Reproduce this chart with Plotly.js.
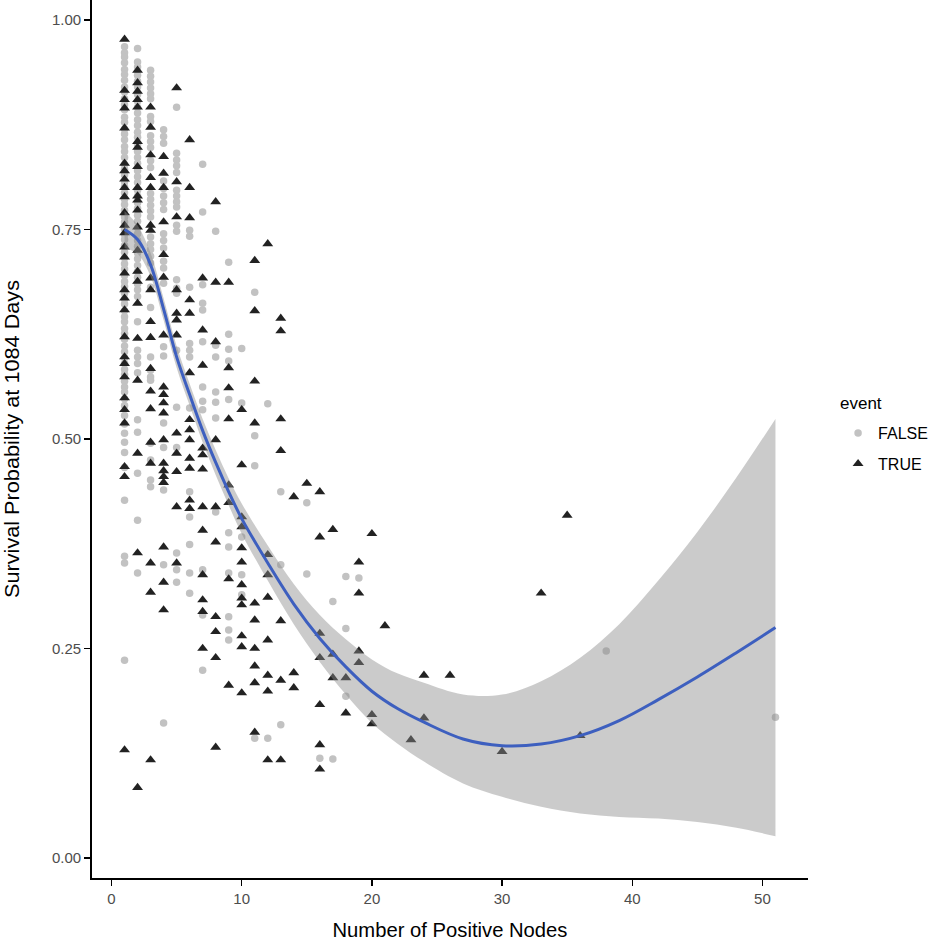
<!DOCTYPE html>
<html><head><meta charset="utf-8">
<script src="https://cdn.plot.ly/plotly-3.0.1.min.js"></script>
<style>html,body{margin:0;padding:0;background:#fff}#chart{width:941px;height:941px}</style>
</head><body><div id="chart"></div>
<script>
// ---- Data (event FALSE = grey circles, TRUE = black triangles) ----
const F1 = [0.968,0.961,0.956,0.949,0.941,0.935,0.928,0.920,0.914,0.906,0.899,0.893,0.884,0.878,0.870,0.864,0.857,0.849,0.843,0.836,0.828,0.822,0.815,0.807,0.801,0.794,0.786,0.780,0.773,0.765,0.759,0.751,0.744,0.738,0.731,0.723,0.716,0.709,0.703,0.695,0.688,0.682,0.674,0.667,0.661,0.653,0.646,0.640,0.632,0.626,0.619,0.611,0.604,0.597,0.590,0.583,0.577,0.569,0.562,0.556,0.548,0.540,0.528,0.518,0.507,0.496,0.484,0.466,0.427,0.360,0.352,0.236];
const T1 = [0.977,0.916,0.905,0.895,0.871,0.829,0.820,0.810,0.800,0.789,0.770,0.755,0.746,0.729,0.717,0.698,0.678,0.668,0.654,0.622,0.598,0.590,0.574,0.549,0.535,0.519,0.467,0.455,0.129];
const F2 = [0.966,0.950,0.944,0.934,0.927,0.920,0.911,0.903,0.896,0.889,0.881,0.874,0.866,0.860,0.851,0.843,0.836,0.829,0.820,0.813,0.806,0.797,0.790,0.782,0.775,0.767,0.760,0.752,0.745,0.737,0.730,0.722,0.715,0.707,0.700,0.693,0.685,0.678,0.670,0.640,0.606,0.598,0.590,0.579,0.523,0.508,0.459,0.403,0.340];
const T2 = [0.940,0.925,0.915,0.905,0.896,0.855,0.848,0.825,0.800,0.790,0.785,0.773,0.753,0.725,0.700,0.688,0.662,0.620,0.570,0.483,0.364,0.084];
const F3 = [0.940,0.933,0.926,0.919,0.912,0.906,0.885,0.879,0.862,0.855,0.848,0.832,0.824,0.793,0.786,0.779,0.772,0.765,0.741,0.733,0.726,0.718,0.710,0.681,0.657,0.598,0.582,0.574,0.570,0.495,0.475,0.451,0.443];
const T3 = [0.896,0.872,0.839,0.812,0.800,0.755,0.749,0.692,0.678,0.640,0.621,0.584,0.557,0.536,0.496,0.471,0.352,0.317,0.117];
const F4 = [0.869,0.861,0.853,0.808,0.799,0.790,0.782,0.774,0.745,0.737,0.728,0.712,0.704,0.686,0.610,0.599,0.519,0.490,0.439,0.350,0.161];
const T4 = [0.837,0.817,0.800,0.759,0.720,0.693,0.624,0.562,0.553,0.543,0.531,0.499,0.471,0.462,0.455,0.448,0.371,0.329,0.296];
const F5 = [0.896,0.841,0.833,0.826,0.818,0.797,0.790,0.783,0.777,0.755,0.748,0.690,0.680,0.674,0.606,0.538,0.490,0.364,0.344,0.329];
const T5 = [0.919,0.807,0.765,0.678,0.650,0.642,0.624,0.507,0.483,0.461,0.419,0.352];
const F6 = [0.749,0.742,0.681,0.614,0.606,0.598,0.537,0.437,0.407,0.374,0.340,0.316];
const T6 = [0.857,0.800,0.764,0.666,0.650,0.579,0.523,0.511,0.499,0.477,0.465,0.427,0.417];
const F7 = [0.828,0.771,0.684,0.662,0.654,0.616,0.562,0.545,0.535,0.344,0.290,0.224];
const T7 = [0.692,0.630,0.588,0.489,0.481,0.464,0.419,0.391,0.338,0.308,0.294,0.250];
const F8 = [0.748,0.612,0.598,0.556,0.544,0.525,0.413];
const T8 = [0.783,0.687,0.616,0.499,0.419,0.377,0.288,0.270,0.239,0.132];
const F9 = [0.711,0.625,0.607,0.593,0.547,0.388,0.371,0.340,0.288,0.272,0.260];
const T9 = [0.687,0.585,0.561,0.524,0.445,0.424,0.333,0.206];
const F10 = [0.608,0.543,0.383,0.338,0.314];
const T10 = [0.535,0.469,0.407,0.395,0.370,0.353,0.326,0.310,0.302,0.265,0.252,0.197];
const F11 = [0.675,0.504,0.468,0.143];
const T11 = [0.713,0.653,0.569,0.519,0.304,0.284,0.250,0.229,0.209,0.150];
const F12 = [0.542,0.143];
const T12 = [0.733,0.362,0.338,0.311,0.260,0.218,0.199,0.117];
const F13 = [0.437,0.350,0.159];
const T13 = [0.644,0.629,0.524,0.486,0.283,0.212,0.117];
// sparse columns (nodes >= 14)
const F_REST_NODES = [15,15,16,17,17,18,18,18,19,38,51];
const F_REST_PROB  = [0.424,0.339,0.119,0.306,0.118,0.336,0.274,0.193,0.334,0.247,0.168];
const T_REST_NODES = [14,14,14,15,16,16,16,16,16,16,16,17,17,17,18,18,19,19,19,19,20,20,20,21,23,24,24,26,30,33,35,36];
const T_REST_PROB  = [0.431,0.221,0.203,0.447,0.437,0.383,0.268,0.239,0.183,0.135,0.106,0.392,0.243,0.215,0.215,0.173,0.353,0.316,0.247,0.233,0.387,0.171,0.160,0.277,0.141,0.218,0.167,0.218,0.127,0.316,0.409,0.146];

// smoothed fit with confidence band
const SMOOTH_X  = [1,2,3,4,5,6,7,8,9,10,12,14,16,18,20,22,24,27,30,33,36,39,42,45,48,51];
const SMOOTH_FIT = [0.750,0.738,0.708,0.655,0.598,0.553,0.510,0.472,0.437,0.405,0.352,0.303,0.262,0.228,0.199,0.178,0.162,0.142,0.134,0.136,0.146,0.164,0.189,0.216,0.245,0.275];
const SMOOTH_LO = [0.728,0.721,0.694,0.642,0.585,0.540,0.496,0.457,0.421,0.387,0.331,0.279,0.234,0.195,0.161,0.136,0.115,0.089,0.073,0.061,0.053,0.049,0.047,0.043,0.036,0.026];
const SMOOTH_HI = [0.772,0.755,0.722,0.668,0.611,0.566,0.524,0.487,0.453,0.423,0.373,0.327,0.290,0.261,0.237,0.220,0.209,0.195,0.195,0.211,0.239,0.279,0.331,0.389,0.454,0.524];

const X_TICKS = [0,10,20,30,40,50];
const Y_TICKS = [0,0.25,0.5,0.75,1];
const Y_TICK_TEXT = ['0.00','0.25','0.50','0.75','1.00'];

// ---- build point lists ----
const FALSE_COLS = [F1,F2,F3,F4,F5,F6,F7,F8,F9,F10,F11,F12,F13];
const TRUE_COLS  = [T1,T2,T3,T4,T5,T6,T7,T8,T9,T10,T11,T12,T13];
const fx=[], fy=[], tx=[], ty=[];
FALSE_COLS.forEach((col,i)=>col.forEach(v=>{fx.push(i+1); fy.push(v);}));
TRUE_COLS.forEach((col,i)=>col.forEach(v=>{tx.push(i+1); ty.push(v);}));
F_REST_NODES.forEach((n,i)=>{fx.push(n); fy.push(F_REST_PROB[i]);});
T_REST_NODES.forEach((n,i)=>{tx.push(n); ty.push(T_REST_PROB[i]);});

const traces = [
  {x:fx, y:fy, type:'scatter', mode:'markers', name:'FALSE', legendgroup:'f',
   marker:{symbol:'circle', size:7.5, color:'#c2c2c2'}},
  {x:tx, y:ty, type:'scatter', mode:'markers', name:'TRUE', legendgroup:'t',
   marker:{symbol:'triangle-up', size:9.5, color:'#222222'}},
  {x:SMOOTH_X, y:SMOOTH_LO, type:'scatter', mode:'lines', line:{width:0, shape:'spline'},
   showlegend:false, hoverinfo:'skip'},
  {x:SMOOTH_X, y:SMOOTH_HI, type:'scatter', mode:'lines', line:{width:0, shape:'spline'},
   fill:'tonexty', fillcolor:'rgba(140,140,140,0.45)', showlegend:false, hoverinfo:'skip'},
  {x:SMOOTH_X, y:SMOOTH_FIT, type:'scatter', mode:'lines', line:{width:3, color:'#3d5fbf', shape:'spline'},
   showlegend:false, hoverinfo:'skip'}
];

const axisCommon = {
  ticks:'outside', ticklen:6, tickwidth:1.5, tickcolor:'#000',
  showline:true, linecolor:'#000', linewidth:1.8, showgrid:false, zeroline:false,
  tickfont:{size:15, color:'#4d4d4d', family:'Liberation Sans, Arial, sans-serif'}
};
const titleFont = {size:21, color:'#000', family:'Liberation Sans, Arial, sans-serif'};

const layout = {
  width:941, height:941,
  margin:{l:92, r:133, t:0, b:63},
  paper_bgcolor:'#fff', plot_bgcolor:'#fff',
  font:{family:'Liberation Sans, Arial, sans-serif', color:'#000'},
  xaxis:Object.assign({}, axisCommon, {range:[-1.5,53.5], tickvals:X_TICKS,
    title:{text:'Number of Positive Nodes', font:titleFont, standoff:16}}),
  yaxis:Object.assign({}, axisCommon, {range:[-0.0239,1.0239], tickvals:Y_TICKS, ticktext:Y_TICK_TEXT,
    title:{text:'Survival Probability at 1084 Days', font:titleFont, standoff:28}}),
  legend:{x:1.042, y:0.5262, xanchor:'left', yanchor:'top', bgcolor:'rgba(0,0,0,0)',
    font:{size:16, color:'#000'}, tracegroupgap:7},
  annotations:[{text:'event', xref:'paper', yref:'paper', x:1.042, y:0.54, xanchor:'left', yanchor:'middle',
    showarrow:false, font:{size:17, color:'#000'}}],
  showlegend:true
};

Plotly.newPlot('chart', traces, layout, {staticPlot:true, displayModeBar:false}).then(()=>{
  // condensed look of the original axis-title font
  const fit = (sel, len) => {
    const t = document.querySelector(sel);
    if (t) { t.setAttribute('textLength', len); t.setAttribute('lengthAdjust', 'spacingAndGlyphs'); }
  };
  fit('.g-xtitle text', 235);
  fit('.g-ytitle text', 318);
});
</script>
</body></html>
